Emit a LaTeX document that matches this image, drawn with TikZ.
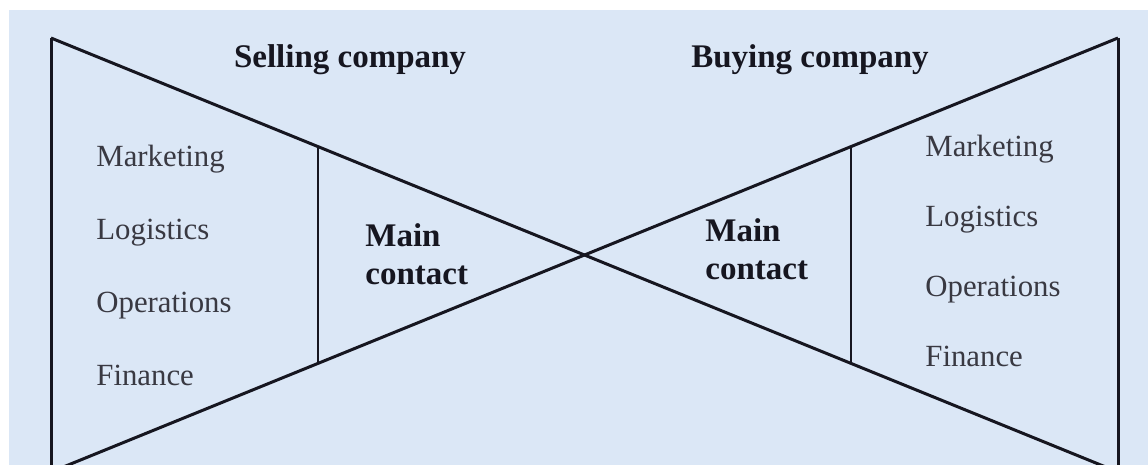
\documentclass[tikz,border=0pt]{standalone}
\usepackage{fontspec}
\setmainfont{Liberation Serif}
\usetikzlibrary{calc,positioning}

\definecolor{paper}{RGB}{219,231,246}
\definecolor{ink}{RGB}{22,22,32}

\begin{document}
\begin{tikzpicture}[x=0.5pt, y=-0.5pt, node distance=21.5pt]

	\tikzstyle{edge}=[draw=ink, line width=1.5pt]
	\tikzstyle{divider}=[draw=ink, line width=0.9pt]
	\tikzstyle{head}=[inner sep=0, text=ink, font=\fontsize{16.5}{19}\selectfont\bfseries]
	\tikzstyle{dept}=[inner sep=0, text height=11pt, text depth=3.5pt,
	text=ink!85, font=\fontsize{15.4}{18}\selectfont]

	\useasboundingbox (0,0) rectangle (1148,465);
	\fill[paper] (9,10) rectangle (1148,465);
	\clip (9,10) rectangle (1148,465);

	% Corners of the bow tie
	\coordinate (TL) at (51,38);
	\coordinate (BL) at (51,472);
	\coordinate (TR) at (1118,38);
	\coordinate (BR) at (1118,472);

	% Ends of the two dividers
	\coordinate (SLtop) at ($(TL)!0.25!(BR)$);
	\coordinate (SLbot) at ($(BL)!0.25!(TR)$);
	\coordinate (BYtop) at ($(TR)!0.25!(BL)$);
	\coordinate (BYbot) at ($(BR)!0.25!(TL)$);

	\draw[edge] (TL) -- (BL);
	\draw[edge] (TR) -- (BR);
	\draw[edge] (TL) -- (BR);
	\draw[edge] (BL) -- (TR);
	\draw[divider] (SLtop) -- (SLbot);
	\draw[divider] (BYtop) -- (BYbot);

	% Headings
	\node[head, anchor=base] (sell) at (350,68) {Selling company};
	\node[head, anchor=base] (buy) at (810,68) {Buying company};

	% Selling side
	\node[dept, anchor=base west] (sMkt) at (96,167) {Marketing};
	\node[dept, below=of sMkt.south west, anchor=north west] (sLog) {Logistics};
	\node[dept, below=of sLog.south west, anchor=north west] (sOps) {Operations};
	\node[dept, below=of sOps.south west, anchor=north west] (sFin) {Finance};
	\node[head, align=left, anchor=north west] (sMain) at (365,223) {Main\\contact};

	% Buying side
	\node[dept, anchor=base west] (bMkt) at (925,157) {Marketing};
	\node[dept, below=20pt of bMkt.south west, anchor=north west] (bLog) {Logistics};
	\node[dept, below=20pt of bLog.south west, anchor=north west] (bOps) {Operations};
	\node[dept, below=20pt of bOps.south west, anchor=north west] (bFin) {Finance};
	\node[head, align=left, anchor=north west] (bMain) at (705,218) {Main\\contact};

\end{tikzpicture}
\end{document}
